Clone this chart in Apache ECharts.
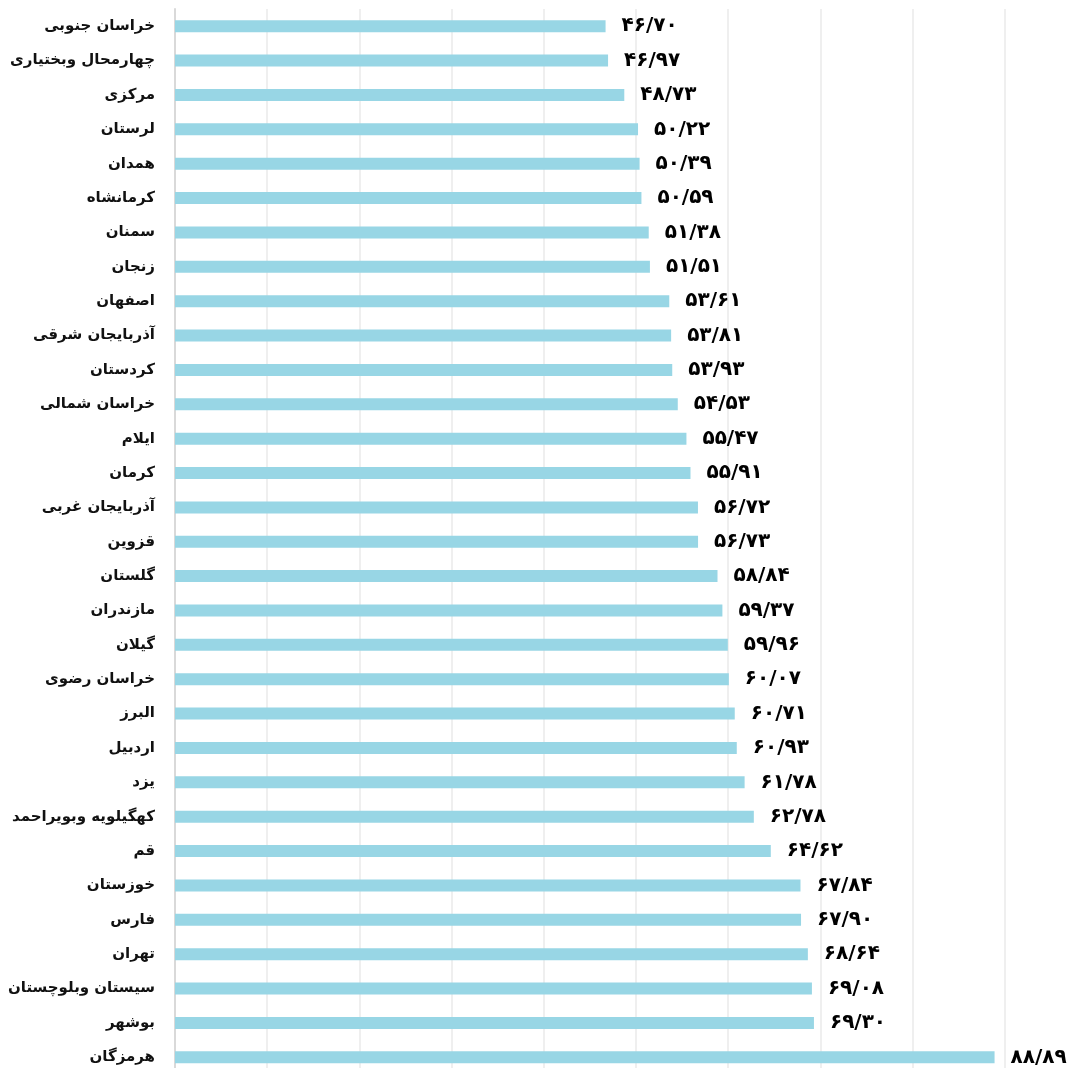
<!DOCTYPE html>
<html><head><meta charset="utf-8">
<script src="https://cdn.jsdelivr.net/npm/echarts@6/dist/echarts.min.js"></script>
<style>html,body{margin:0;padding:0;background:#fff}#c{width:1070px;height:1068px}</style>
</head><body><div id="c"></div>
<script>
const categories = ['خراسان جنوبی','چهارمحال وبختیاری','مرکزی','لرستان','همدان','کرمانشاه','سمنان','زنجان','اصفهان','آذربایجان شرقی','کردستان','خراسان شمالی','ایلام','کرمان','آذربایجان غربی','قزوین','گلستان','مازندران','گیلان','خراسان رضوی','البرز','اردبیل','یزد','کهگیلویه وبویراحمد','قم','خوزستان','فارس','تهران','سیستان وبلوچستان','بوشهر','هرمزگان'];
const values = [46.70,46.97,48.73,50.22,50.39,50.59,51.38,51.51,53.61,53.81,53.93,54.53,55.47,55.91,56.72,56.73,58.84,59.37,59.96,60.07,60.71,60.93,61.78,62.78,64.62,67.84,67.90,68.64,69.08,69.30,88.89];
const xMin = 0, xMax = 100, xStep = 10;

const pd = '۰۱۲۳۴۵۶۷۸۹';
function toFa(v){ return v.toFixed(2).replace('.', '/').replace(/[0-9]/g, d => pd[+d]); }

const chart = echarts.init(document.getElementById('c'));
chart.setOption({
  animation: false,
  grid: { left: 175, top: 9, width: 922, height: 1065.5, containLabel: false, outerBoundsMode: 'none' },
  xAxis: {
    type: 'value', min: xMin, max: xMax, interval: xStep,
    axisLabel: { show: false }, axisTick: { show: false }, axisLine: { show: false },
    splitLine: { show: true, lineStyle: { color: '#efefef', width: 2 } }
  },
  yAxis: {
    type: 'category', data: categories, inverse: true,
    axisTick: { show: false },
    axisLine: { show: true, lineStyle: { color: '#d9d9d9', width: 2 } },
    axisLabel: { margin: 20, color: '#111', fontSize: 15, fontWeight: 'bold', fontFamily: 'DejaVu Sans' }
  },
  series: [{
    type: 'bar', data: values, barWidth: 12,
    itemStyle: { color: '#98d6e5' },
    label: { show: true, position: 'right', distance: 16, color: '#000', fontSize: 20, fontWeight: 'bold', fontFamily: 'DejaVu Sans',
      formatter: p => toFa(p.value) }
  }]
});
</script></body></html>
